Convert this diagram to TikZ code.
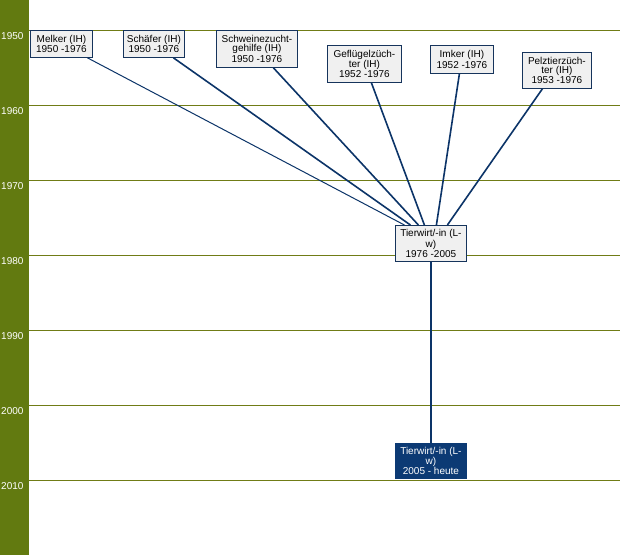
\documentclass[tikz,border=0pt]{standalone}
\usepackage{fontspec}
\setmainfont{Liberation Sans}
\usetikzlibrary{positioning}

\definecolor{barGreen}{RGB}{98,122,16}
\definecolor{yearLine}{RGB}{112,124,22}
\definecolor{boxBorder}{RGB}{22,52,92}
\definecolor{boxFill}{RGB}{240,240,240}
\definecolor{linkBlue}{RGB}{12,52,104}
\definecolor{nowBlue}{RGB}{12,58,116}

\begin{document}
\begin{tikzpicture}[x=1pt, y=-1pt,
    job/.style={rectangle, draw=boxBorder, fill=boxFill, line width=0.8pt, anchor=north west,
        align=center, inner sep=1pt, font=\fontsize{10}{9}\selectfont},
    link/.style={draw=linkBlue, line width=1.6pt},
    yearlbl/.style={anchor=west, inner sep=0pt, text=white, font=\fontsize{10}{10}\selectfont}]
    \useasboundingbox (0,0) rectangle (620,555);
    \fill[white] (0,0) rectangle (620,555);
    \fill[barGreen] (0,0) rectangle (29,555);
    % Years
    \foreach \yr [count=\i from 0] in {1950,1960,...,2010} {
        \draw[yearLine, line width=1pt] (29,{30+75*\i}) -- (620,{30+75*\i});
        \node (y\yr) [yearlbl] at (1,{36.5+75*\i}) {\yr};
    }
    % Nodes
    \node (melker) [job, minimum width=62pt, minimum height=27pt] at (30,30) {Melker (IH)\\1950 -1976};
    \node (schaefer) [job, minimum width=61pt, minimum height=27pt] at (123,30) {Schäfer (IH)\\1950 -1976};
    \node (schwein) [job, minimum width=81pt, minimum height=37pt] at (216,30) {Schweinezucht-\\gehilfe (IH)\\1950 -1976};
    \node (gefluegel) [job, minimum width=74pt, minimum height=37pt] at (327,45) {Geflügelzüch-\\ter (IH)\\1952 -1976};
    \node (imker) [job, minimum width=63pt, minimum height=28pt] at (430,45) {Imker (IH)\\1952 -1976};
    \node (pelz) [job, minimum width=69pt, minimum height=36pt] at (522,52) {Pelztierzüch-\\ter (IH)\\1953 -1976};
    \node (tierwirt) [job, minimum width=71pt, minimum height=36pt] at (395,225) {Tierwirt/-in (L-\\w)\\1976 -2005};
    \node (heute) [job, draw=nowBlue, fill=nowBlue, text=white, minimum width=71pt, minimum height=35pt] at (395,443) {Tierwirt/-in (L-\\w)\\2005 - heute};
    % Links
    \draw[link, line width=1pt] ([xshift=26pt]melker.south) -- ([xshift=-26.5pt]tierwirt.north);
    \draw[link] ([xshift=19.5pt]schaefer.south) -- ([xshift=-20.5pt]tierwirt.north);
    \draw[link] ([xshift=16.5pt]schwein.south) -- ([xshift=-12.5pt]tierwirt.north);
    \draw[link] ([xshift=7pt]gefluegel.south) -- ([xshift=-6.5pt]tierwirt.north);
    \draw[link] ([xshift=-2.5pt]imker.south) -- ([xshift=5.5pt]tierwirt.north);
    \draw[link] ([xshift=-14.5pt]pelz.south) -- ([xshift=16.5pt]tierwirt.north);
    \draw[link] (tierwirt) -- (heute);
\end{tikzpicture}
\end{document}
